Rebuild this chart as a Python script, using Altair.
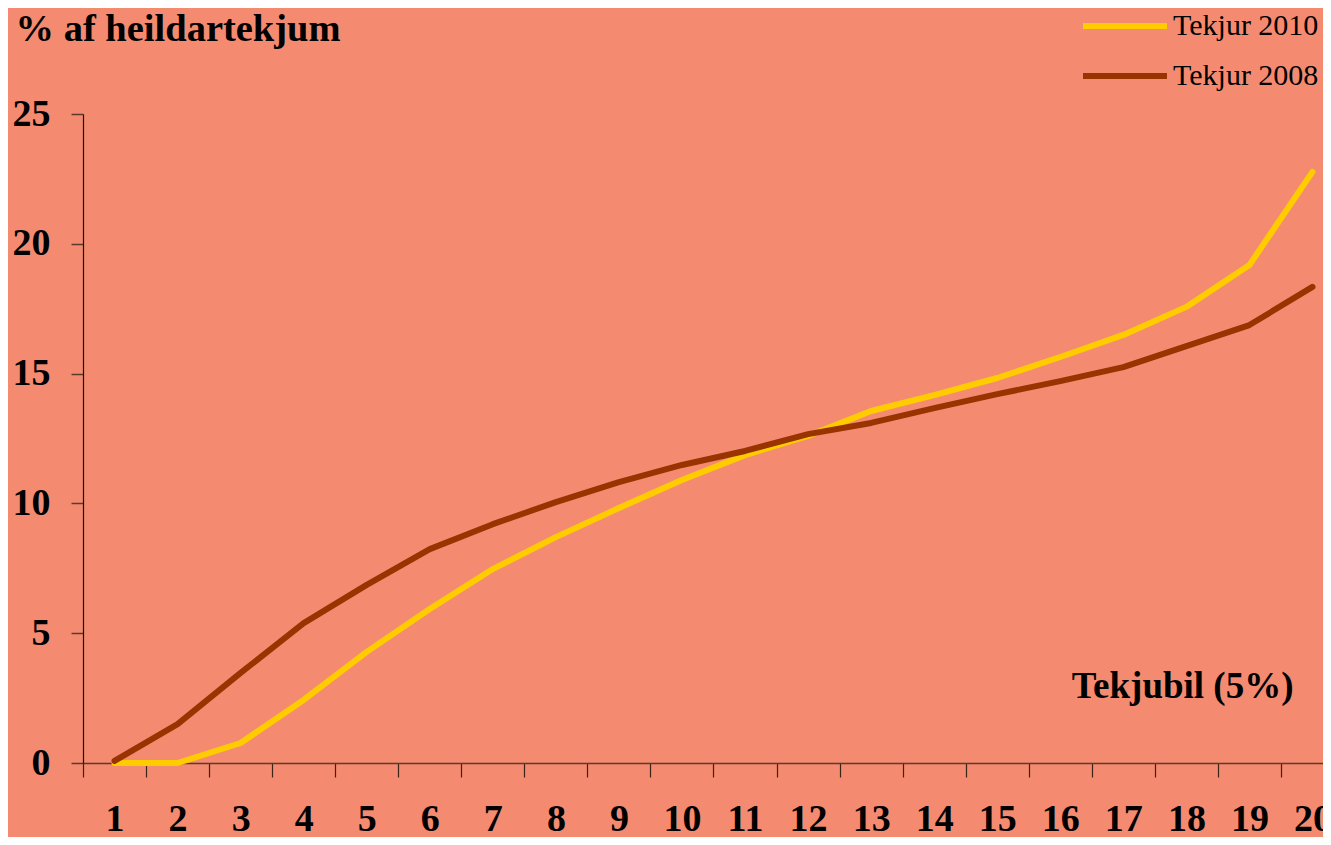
import altair as alt
import pandas as pd

categories = [str(i) for i in range(1, 21)]
tekjur_2010 = [0.0, 0.0, 0.77, 2.43, 4.28, 5.93, 7.47, 8.7, 9.82, 10.9,
               11.86, 12.6, 13.56, 14.17, 14.83, 15.64, 16.49, 17.57, 19.18, 22.77]
tekjur_2008 = [0.08, 1.5, 3.47, 5.39, 6.86, 8.24, 9.2, 10.05, 10.82, 11.48,
               12.02, 12.67, 13.1, 13.67, 14.21, 14.71, 15.25, 16.06, 16.87, 18.34]
series_names = ["Tekjur 2010", "Tekjur 2008"]
series_colors = ["#FFCC00", "#993300"]
y_ticks = [0, 5, 10, 15, 20, 25]

rows = []
for name, vals in zip(series_names, [tekjur_2010, tekjur_2008]):
    for c, v in zip(categories, vals):
        rows.append({"bil": c, "value": v, "series": name})
df = pd.DataFrame(rows)

FONT = "Liberation Serif"
BG = "#F48B71"

chart = alt.Chart(df).mark_line(strokeWidth=6, strokeCap="round", strokeJoin="round").encode(
    x=alt.X("bil:O", sort=categories,
            scale=alt.Scale(type="band", paddingInner=0, paddingOuter=0, range=[0, 1261]),
            axis=alt.Axis(title="Tekjubil (5%)", labelAngle=0, tickBand="extent",
                          labelFont=FONT, labelFontSize=38, labelFontWeight="bold", labelColor="#000",
                          labelBaseline="alphabetic", labelPadding=53, tickSize=14,
                          tickColor="#3a2418", domainColor="#5a3a2c", domainWidth=1.5, tickWidth=1.2,
                          titleFont=FONT, titleFontSize=37, titleFontWeight="bold", titleColor="#000",
                          titleX=1210, titleY=-66, titleAlign="right", titleBaseline="alphabetic",
                          titleAngle=0, grid=False)),
    y=alt.Y("value:Q", scale=alt.Scale(domain=[0, 25], nice=False, zero=True),
            axis=alt.Axis(values=y_ticks, title="% af heildartekjum", grid=False,
                          labelFont=FONT, labelFontSize=38, labelFontWeight="bold", labelColor="#000",
                          labelPadding=21, tickSize=12, tickColor="#5a3a2c", tickWidth=1.5,
                          domainColor="#111", domainWidth=1.2,
                          titleFont=FONT, titleFontSize=38.5, titleFontWeight="bold", titleColor="#000",
                          titleAngle=0, titleAlign="left", titleBaseline="alphabetic",
                          titleX=-68, titleY=-74)),
    color=alt.Color("series:N", sort=series_names,
                    scale=alt.Scale(domain=series_names, range=series_colors),
                    legend=alt.Legend(title=None, orient="none", legendX=1027, legendY=-103,
                                      symbolType="M-4,0H4", symbolSize=441, symbolStrokeWidth=6,
                                      labelFont=FONT, labelFontSize=30, labelColor="#000",
                                      labelOffset=33, rowPadding=20, padding=0)),
).properties(
    width=1240, height=649,
    autosize=alt.AutoSizeParams(type="none"),
    padding={"left": 75, "top": 106, "right": 0, "bottom": 74},
).configure(background=BG).configure_view(stroke=None, fill=BG)

chart.save("out.html", embed_options={"renderer": "svg", "actions": False})
